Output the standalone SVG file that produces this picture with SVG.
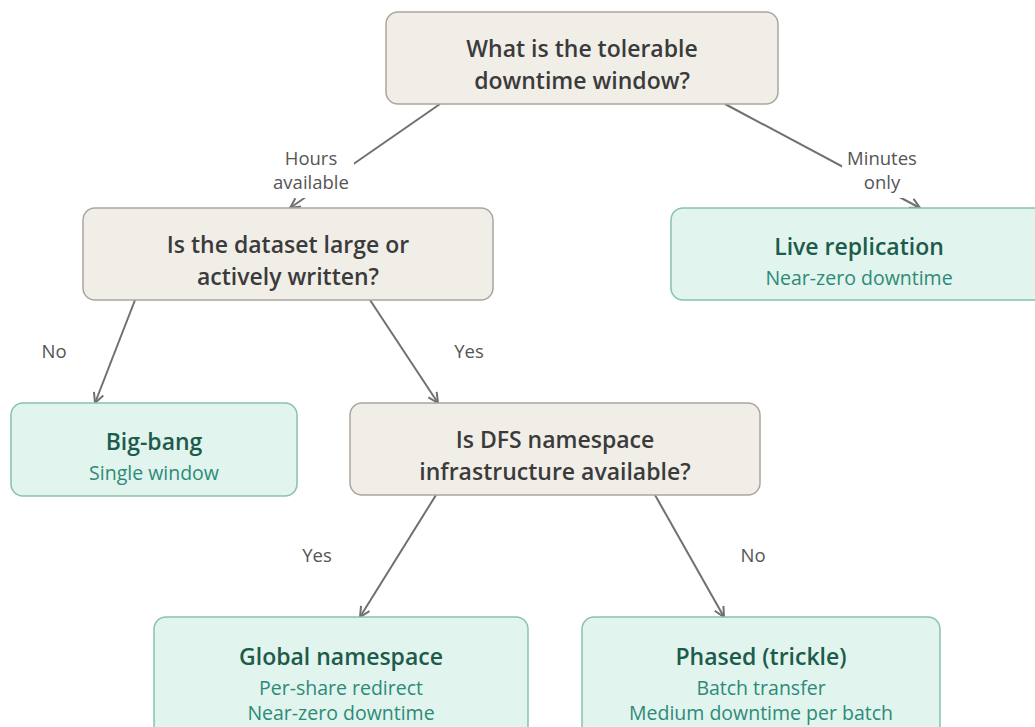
<svg xmlns="http://www.w3.org/2000/svg" width="1035" height="727" viewBox="0 0 1035 727">
<defs>
<style>
.q rect{fill:#f1eee8;stroke:#aaa69e;stroke-width:1.5}
.r rect{fill:#e1f4ee;stroke:#86c2ad;stroke-width:1.5}
.qt{font-family:"Open Sans","Noto Sans",sans-serif;font-weight:600;font-size:23px;fill:#3b3b3b;text-anchor:middle}
.rt{font-family:"Open Sans","Noto Sans",sans-serif;font-weight:600;font-size:23px;fill:#1d5b4b;text-anchor:middle}
.rs{font-family:"Open Sans","Noto Sans",sans-serif;font-size:19.5px;fill:#2e8a78;text-anchor:middle}
.lb{font-family:"Open Sans","Noto Sans",sans-serif;font-size:18.5px;fill:#555;text-anchor:middle}
.e{stroke:#707070;stroke-width:2;fill:none;marker-end:url(#ah)}
</style>
<marker id="ah" viewBox="0 0 12 12" refX="11" refY="6" markerWidth="12" markerHeight="12" markerUnits="userSpaceOnUse" orient="auto">
<path d="M1,1 L11,6 L1,11" fill="none" stroke="#707070" stroke-width="2"/>
</marker>
</defs>
<rect width="1035" height="727" fill="#ffffff"/>
<g id="connectors">
<line class="e" x1="440" y1="104" x2="290" y2="208"/>
<line class="e" x1="725" y1="104" x2="920" y2="208"/>
<line class="e" x1="135" y1="300" x2="95" y2="403"/>
<line class="e" x1="370" y1="300" x2="438" y2="403"/>
<line class="e" x1="436" y1="495" x2="360" y2="617"/>
<line class="e" x1="655" y1="495" x2="724" y2="617"/>
<rect x="268" y="146" width="86" height="52" fill="#fff"/>
<rect x="842" y="146" width="80" height="52" fill="#fff"/>
<text class="lb" x="311" y="165">Hours</text>
<text class="lb" x="311" y="189">available</text>
<text class="lb" x="882" y="165">Minutes</text>
<text class="lb" x="882" y="189">only</text>
<text class="lb" x="54" y="358">No</text>
<text class="lb" x="469" y="358">Yes</text>
<text class="lb" x="317" y="562">Yes</text>
<text class="lb" x="753" y="562">No</text>
</g>
<g id="q1" class="q">
<rect x="386" y="12" width="392" height="92" rx="12"/>
<text class="qt" x="582" y="57">What is the tolerable</text>
<text class="qt" x="582" y="89">downtime window?</text>
</g>
<g id="q2" class="q">
<rect x="83" y="208" width="410" height="92" rx="12"/>
<text class="qt" x="288" y="253">Is the dataset large or</text>
<text class="qt" x="288" y="285">actively written?</text>
</g>
<g id="live" class="r">
<rect x="671" y="208" width="380" height="92" rx="12"/>
<text class="rt" x="859" y="255">Live replication</text>
<text class="rs" x="859" y="285">Near-zero downtime</text>
</g>
<g id="bigbang" class="r">
<rect x="11" y="403" width="286" height="93" rx="12"/>
<text class="rt" x="154" y="450">Big-bang</text>
<text class="rs" x="154" y="480">Single window</text>
</g>
<g id="q3" class="q">
<rect x="350" y="403" width="410" height="92" rx="12"/>
<text class="qt" x="555" y="448">Is DFS namespace</text>
<text class="qt" x="555" y="480">infrastructure available?</text>
</g>
<g id="global" class="r">
<rect x="154" y="617" width="374" height="125" rx="12"/>
<text class="rt" x="341" y="665">Global namespace</text>
<text class="rs" x="341" y="695">Per-share redirect</text>
<text class="rs" x="341" y="720">Near-zero downtime</text>
</g>
<g id="phased" class="r">
<rect x="582" y="617" width="358" height="125" rx="12"/>
<text class="rt" x="761" y="665">Phased (trickle)</text>
<text class="rs" x="761" y="695">Batch transfer</text>
<text class="rs" x="761" y="720">Medium downtime per batch</text>
</g>
</svg>
